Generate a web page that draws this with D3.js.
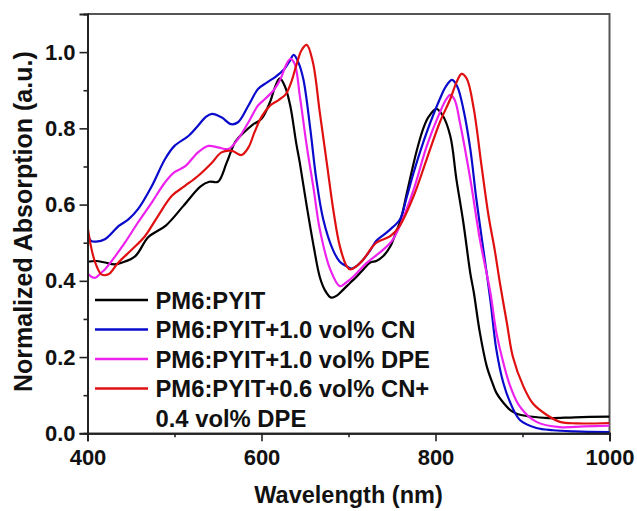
<!DOCTYPE html>
<html><head><meta charset="utf-8">
<script src="https://cdn.jsdelivr.net/npm/d3@7/dist/d3.min.js"></script>
<style>body{margin:0;background:#fff}svg{display:block}text{font-family:"Liberation Sans",Arial,sans-serif;font-weight:bold}</style>
</head><body>
<svg id="c" width="637" height="511"></svg>
<script>
const seriesNames = ["PM6:PYIT", "PM6:PYIT+1.0 vol% CN", "PM6:PYIT+1.0 vol% DPE", "PM6:PYIT+0.6 vol% CN+"];
const legendExtra = "0.4 vol% DPE";
const seriesColors = ["#000000", "#0a0acc", "#ee22ee", "#e01010"];

const blackWl = [400,410,420,431,440,455,470,490,510,530,540,550,560,570,580,590,600,610,615,621,627,633,640,644,652,660,667,673,680,687,694,702,709,717,725,732,740,748,755,760,767,775,780,786,792,801,808,817,824,832,840,844,851,859,865,870,878,886,895,909,930,960,1000];
const blackAbs = [0.45,0.452,0.448,0.443,0.448,0.465,0.515,0.545,0.596,0.648,0.66,0.66,0.71,0.765,0.79,0.81,0.825,0.87,0.905,0.931,0.91,0.86,0.76,0.71,0.596,0.49,0.41,0.375,0.356,0.362,0.377,0.395,0.41,0.43,0.448,0.452,0.465,0.49,0.53,0.56,0.63,0.71,0.755,0.8,0.83,0.851,0.835,0.78,0.667,0.553,0.42,0.37,0.264,0.175,0.135,0.106,0.08,0.061,0.05,0.044,0.04,0.042,0.044];

const blueWl = [400,404,410,420,436,447,458,474,489,500,516,527,536,543,554,565,573,585,596,606,616,626,632,637,642,648,656,663,671,682,690,698,704,710,717,725,732,740,748,759,767,775,790,805,812,819,825,832,840,847,855,863,870,878,886,897,916,935,960,1000];
const blueAbs = [0.527,0.505,0.503,0.509,0.544,0.561,0.588,0.649,0.719,0.754,0.78,0.807,0.83,0.838,0.829,0.811,0.816,0.86,0.903,0.92,0.935,0.955,0.975,0.993,0.975,0.93,0.8,0.667,0.561,0.482,0.45,0.438,0.432,0.44,0.456,0.48,0.505,0.52,0.535,0.561,0.62,0.685,0.79,0.877,0.91,0.927,0.91,0.851,0.746,0.614,0.482,0.351,0.219,0.132,0.08,0.035,0.014,0.008,0.005,0.003];

const magentaWl = [400,405,409,415,420,432,443,458,474,489,500,512,527,539,550,562,573,585,596,604,614,622,628,633,638,644,652,660,667,679,690,697,706,721,740,750,759,775,790,805,812,817,822,828,840,851,863,870,878,886,897,916,943,970,1000];
const magentaAbs = [0.42,0.41,0.408,0.42,0.43,0.465,0.5,0.553,0.606,0.658,0.685,0.7,0.737,0.754,0.75,0.746,0.772,0.816,0.86,0.877,0.9,0.93,0.965,0.982,0.97,0.886,0.754,0.64,0.535,0.43,0.386,0.395,0.412,0.447,0.482,0.505,0.544,0.64,0.754,0.842,0.875,0.888,0.875,0.816,0.667,0.509,0.37,0.264,0.185,0.123,0.07,0.03,0.016,0.018,0.02];

const redWl = [400,404,409,416,424,435,451,466,481,497,512,527,543,554,566,577,585,592,600,610,620,628,634,640,646,652,659,667,675,683,690,698,702,710,717,732,748,759,775,790,805,817,824,830,836,844,853,861,868,874,882,889,901,912,928,943,962,1000];
const redAbs = [0.544,0.49,0.447,0.417,0.417,0.447,0.482,0.517,0.57,0.623,0.649,0.675,0.71,0.737,0.741,0.73,0.75,0.79,0.83,0.86,0.875,0.89,0.92,0.965,1.005,1.019,0.974,0.842,0.71,0.579,0.491,0.438,0.43,0.44,0.456,0.5,0.517,0.545,0.623,0.72,0.816,0.877,0.92,0.943,0.93,0.851,0.7,0.57,0.482,0.395,0.29,0.2,0.123,0.078,0.048,0.03,0.026,0.027];

const xTicks = [400, 600, 800, 1000];
const xMinorTicks = [500, 700, 900];
const yTicks = [0.0, 0.2, 0.4, 0.6, 0.8, 1.0];
const yMinorTicks = [0.1, 0.3, 0.5, 0.7, 0.9];
const xTitle = "Wavelength (nm)";
const yTitle = "Normalized Absorption (a.u.)";

const series = [
  {wl: blackWl, v: blackAbs},
  {wl: blueWl, v: blueAbs},
  {wl: magentaWl, v: magentaAbs},
  {wl: redWl, v: redAbs}
];

const W = 637, H = 511;
const m = {left: 87.5, right: 27.5, top: 14, bottom: 77.7};
const svg = d3.select("#c");
const x = d3.scaleLinear().domain([400, 1000]).range([m.left, W - m.right]);
const y = d3.scaleLinear().domain([0, 1.1]).range([H - m.bottom, m.top]);

// frame top/right
svg.append("path")
  .attr("d", `M${x(400)},${y(1.1)}H${x(1000)}V${y(0)}`)
  .attr("fill", "none").attr("stroke", "#555").attr("stroke-width", 2);

svg.append("clipPath").attr("id", "clip").append("rect")
  .attr("x", x(400)).attr("y", y(1.1)).attr("width", x(1000) - x(400)).attr("height", y(0) - y(1.1));

const line = d3.line().x(d => x(d[0])).y(d => y(d[1])).curve(d3.curveCatmullRom.alpha(0.5));
const g = svg.append("g").attr("clip-path", "url(#clip)");
series.forEach((s, i) => {
  g.append("path")
    .datum(s.wl.map((w, k) => [w, s.v[k]]))
    .attr("d", line)
    .attr("fill", "none")
    .attr("stroke", seriesColors[i])
    .attr("stroke-width", 2.2)
    .attr("stroke-linejoin", "round");
});

// axes
const fmt = d3.format(".1f");
const xAxis = svg.append("g").attr("transform", `translate(0,${y(0)})`)
  .call(d3.axisBottom(x).tickValues(xTicks).tickSize(8).tickPadding(8.5).tickFormat(d3.format("d")));
const xMinor = svg.append("g").attr("transform", `translate(0,${y(0)})`)
  .call(d3.axisBottom(x).tickValues(xMinorTicks).tickSize(4).tickFormat(""));
const yAxis = svg.append("g").attr("transform", `translate(${x(400)},0)`)
  .call(d3.axisLeft(y).tickValues(yTicks).tickSize(8).tickPadding(4).tickFormat(fmt));
const yMinor = svg.append("g").attr("transform", `translate(${x(400)},0)`)
  .call(d3.axisLeft(y).tickValues(yMinorTicks).tickSize(4).tickFormat(""));
[xAxis, xMinor, yAxis, yMinor].forEach(a => {
  a.select(".domain").attr("stroke", "#222").attr("stroke-width", 2);
  a.selectAll(".tick line").attr("stroke", "#222").attr("stroke-width", 1.6);
  a.selectAll("text").attr("font-size", 22).attr("fill", "#111")
    .attr("font-family", '"Liberation Sans",Arial,sans-serif').attr("font-weight", "bold");
});

// titles
svg.append("text").attr("x", (x(400) + x(1000)) / 2).attr("y", 503)
  .attr("text-anchor", "middle").attr("font-size", 23.5).attr("fill", "#111").text(xTitle);
svg.append("text").attr("transform", `translate(32,${(y(0) + y(1.1)) / 2 - 2}) rotate(-90)`)
  .attr("text-anchor", "middle").attr("font-size", 25).attr("fill", "#111").text(yTitle);

// legend
const lg = svg.append("g");
const rowY = [300, 329.5, 359, 388.5];
seriesNames.forEach((name, i) => {
  lg.append("line").attr("x1", 95).attr("x2", 148).attr("y1", rowY[i]).attr("y2", rowY[i])
    .attr("stroke", seriesColors[i]).attr("stroke-width", 2.5);
  lg.append("text").attr("x", 155.5).attr("y", rowY[i] + 8.5)
    .attr("font-size", 23.8).attr("fill", "#111").text(name);
});
lg.append("text").attr("x", 155.5).attr("y", 426.8).attr("font-size", 23.8).attr("fill", "#111").text(legendExtra);
</script>
</body></html>
